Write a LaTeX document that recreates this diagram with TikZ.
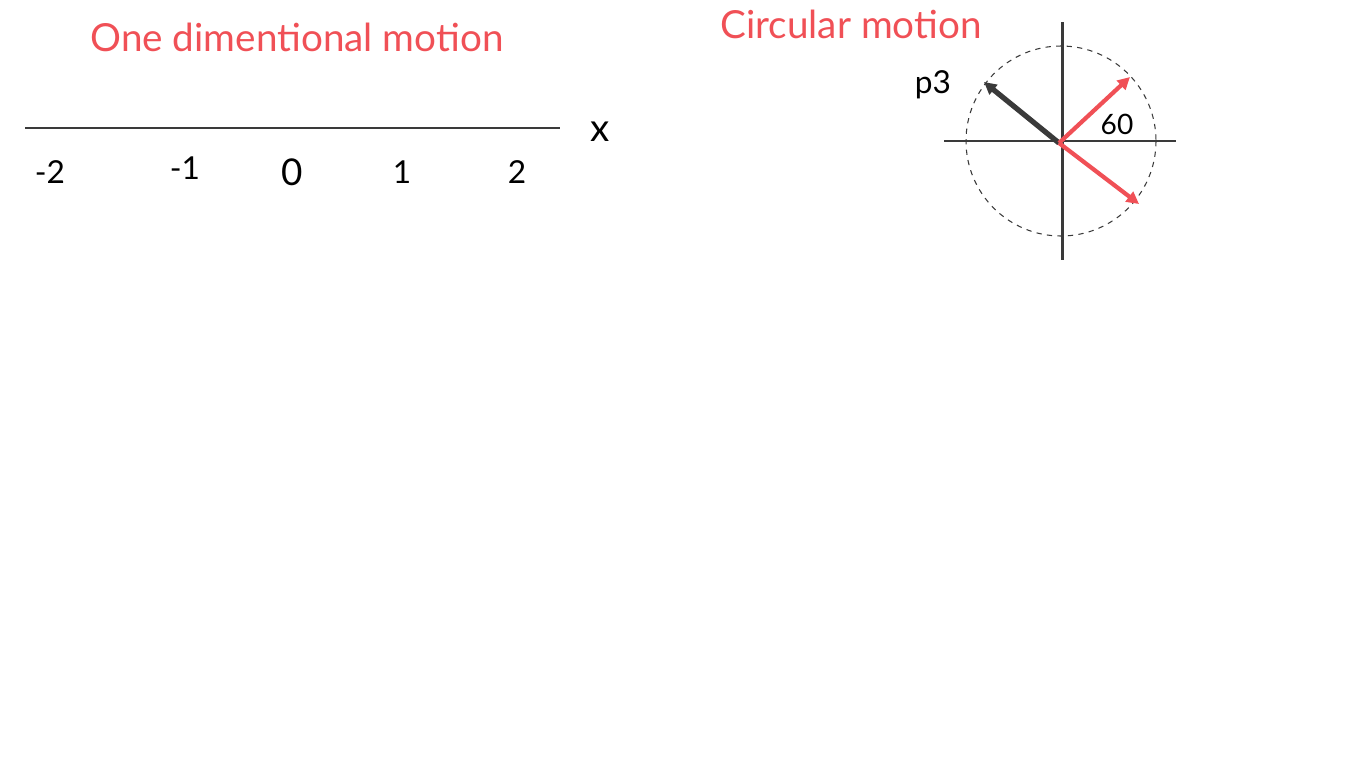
\documentclass[tikz,border=0pt]{standalone}
\usepackage{fontspec}
\setmainfont{Lato}
\usetikzlibrary{arrows.meta}
\definecolor{myred}{HTML}{F05056}
\definecolor{mydark}{HTML}{3A3A3A}
\tikzset{title/.style={text=myred,font=\fontsize{22}{26}\selectfont},
 num/.style={font=\fontsize{18}{22}\selectfont},
 axis/.style={draw=mydark,line width=1.7pt},
 vec/.style={line width=2.4pt,-{Triangle[length=7pt,width=7pt]}}}
\begin{document}
\begin{tikzpicture}[x=0.02cm,y=-0.02cm]
\useasboundingbox (0,0) rectangle (1366,768);
\node[title] (t1) at (297,37) {One dimentional motion};
\node[title] (t2) at (851,24) {Circular motion};
\coordinate (la) at (25,128); \coordinate (lb) at (560,128);
\draw[axis] (la) -- (lb);
\node[num] (m2) at (50,172) {-2};
\node[num] (m1) at (185,168) {-1};
\node[num,font=\fontsize{21}{24}\selectfont] (z) at (292,172) {0};
\node[num] (p1) at (402,172) {1};
\node[num] (p2) at (517,172) {2};
\node[num,font=\fontsize{22}{26}\selectfont] (xl) at (600,132) {x};
\coordinate (o) at (1061,141);
\draw[mydark,dashed,line width=0.6pt] (o) circle (95);
\coordinate (ha) at (944,141); \coordinate (hb) at (1176,141);
\coordinate (va) at (1062,22); \coordinate (vb) at (1062,260);
\draw[axis] (ha) -- (hb); \draw[axis] (va) -- (vb);
\coordinate (o2) at (1059,143);
\coordinate (r1) at (1130,77); \coordinate (r2) at (1139,204); \coordinate (b1) at (984,82);
\draw[vec,mydark,line width=3pt] (o2) -- (b1);
\draw[vec,myred] (o2) -- (r1);
\draw[vec,myred] (o2) -- (r2);
\node[num] (p3) at (933,85) {p3};
\node[num,font=\fontsize{16}{20}\selectfont] (a60) at (1117,124) {60};
\end{tikzpicture}
\end{document}
